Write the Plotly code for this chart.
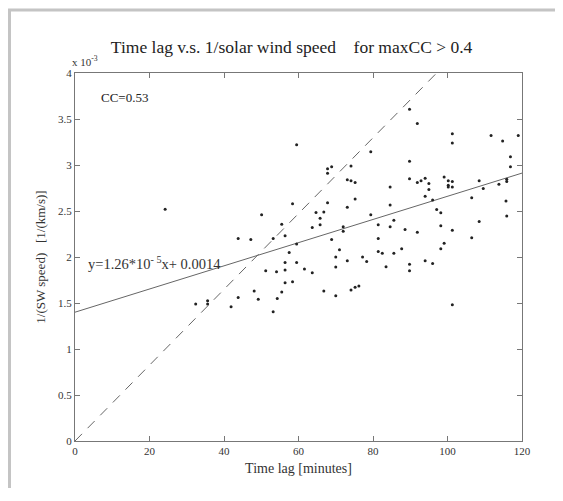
import plotly.graph_objects as go

# Time lag [minutes]
time_lag = [24.2, 32.4, 35.6, 35.6, 41.9, 43.8, 43.8, 47.2, 48.1, 49.2,
            50.1, 51.2, 53.2, 53.2, 54.1, 54.3, 55.5, 55.5, 56.4, 56.4,
            56.4, 56.4, 57.5, 58.4, 58.4, 59.5, 59.5, 59.5, 61.6, 63.7,
            63.7, 64.7, 65.8, 65.8, 66.8, 66.8, 67.8, 67.8, 67.8, 68.9,
            68.9, 70.0, 70.0, 70.0, 71.0, 72.0, 72.0, 73.1, 73.1, 73.1,
            74.1, 74.1, 74.1, 75.2, 75.2, 75.2, 76.2, 77.2, 78.3, 79.4,
            79.4, 81.4, 81.4, 81.4, 82.5, 83.5, 84.6, 84.6, 84.6, 85.6,
            85.6, 87.7, 88.6, 89.8, 89.8, 89.8, 89.8, 89.8, 91.9, 91.9,
            91.9, 92.9, 94.0, 94.0, 94.0, 95.0, 95.0, 96.0, 96.0, 97.1,
            98.2, 98.2, 98.2, 99.1, 99.1, 100.2, 100.2, 100.2, 101.3, 101.3,
            101.3, 101.3, 101.3, 101.3, 106.5, 106.5, 108.5, 108.5, 109.6, 111.7,
            113.8, 114.8, 115.7, 115.9, 115.9, 115.9, 116.9, 116.9, 119.0]
# 1/(SW speed) in units of 1e-3 [1/(km/s)]
inv_speed = [2.52, 1.49, 1.525, 1.49, 1.46, 2.20, 1.56, 2.19, 1.63, 1.54,
             2.46, 1.85, 1.405, 2.20, 1.84, 1.55, 2.355, 1.62, 2.23, 1.94,
             1.86, 1.72, 2.05, 2.58, 1.73, 3.22, 2.14, 1.94, 1.87, 2.32,
             1.83, 2.485, 2.42, 2.35, 2.49, 1.63, 2.96, 2.91, 2.59, 2.98,
             2.19, 2.00, 1.89, 1.58, 2.08, 2.33, 2.28, 2.84, 2.54, 1.96,
             2.99, 2.83, 1.64, 2.81, 2.63, 1.67, 1.685, 2.00, 1.95, 3.145,
             2.46, 2.35, 2.20, 2.06, 2.04, 1.895, 2.76, 2.565, 2.33, 2.40,
             2.04, 2.09, 2.30, 3.605, 3.04, 2.85, 1.92, 1.85, 3.45, 2.81,
             2.27, 2.83, 2.855, 2.66, 1.96, 2.80, 2.735, 2.62, 1.93, 2.515,
             2.48, 2.34, 2.09, 2.87, 2.15, 2.83, 2.78, 2.76, 3.34, 3.24,
             2.82, 2.76, 2.29, 1.48, 2.645, 2.21, 2.83, 2.385, 2.745, 3.32,
             2.79, 3.26, 2.61, 2.845, 2.82, 2.445, 3.09, 2.98, 3.32]

fit_slope = 0.0126      # 1.26e-5 in units of 1e-3
fit_intercept = 1.4     # 0.0014 in units of 1e-3
ref_slope = 0.0412      # dashed reference line
line_x = [0, 120]

x_ticks = [0, 20, 40, 60, 80, 100, 120]
y_ticks = [0, 0.5, 1, 1.5, 2, 2.5, 3, 3.5, 4]
y_ticktext = ["0", "0.5", "1", "1.5", "2", "2.5", "3", "3.5", "4"]

FONT = "Liberation Serif"

fig = go.Figure()
fig.add_trace(go.Scatter(x=line_x, y=[ref_slope * v for v in line_x], mode="lines",
                         line=dict(color="#666", width=1, dash="10px,8px"),
                         hoverinfo="skip"))
fig.add_trace(go.Scatter(x=line_x, y=[fit_slope * v + fit_intercept for v in line_x],
                         mode="lines", line=dict(color="#666", width=1),
                         hoverinfo="skip"))
fig.add_trace(go.Scatter(x=time_lag, y=inv_speed, mode="markers",
                         marker=dict(size=3, color="#222")))

axis_common = dict(showgrid=False, zeroline=False, showline=True, linecolor="#777",
                   linewidth=1, mirror="ticks", ticks="inside", ticklen=5,
                   tickcolor="#777", automargin=False,
                   tickfont=dict(family=FONT, size=11, color="#333"))

fig.update_xaxes(range=[0, 120], tickvals=x_ticks,
                 title=dict(text="Time lag [minutes]", font=dict(family=FONT, size=14, color="#333"),
                            standoff=6),
                 **axis_common)
fig.update_yaxes(range=[0, 4], tickvals=y_ticks, ticktext=y_ticktext,
                 title=dict(text="1/(SW speed)   [1/(km/s)]", font=dict(family=FONT, size=13, color="#333"),
                            standoff=9),
                 **axis_common)

fig.update_layout(
    width=555, height=480,
    margin=dict(l=67, r=41, t=65, b=47, autoexpand=False),
    paper_bgcolor="white", plot_bgcolor="white",
    showlegend=False,
    title=dict(text="Time lag v.s. 1/solar wind speed &nbsp;&nbsp; for maxCC > 0.4",
               x=0.511, xanchor="center", y=1 - 39 / 480, yanchor="middle",
               font=dict(family=FONT, size=17.5, color="#222"), automargin=False),
    annotations=[
        dict(text="x 10<sup>-3</sup>", xref="paper", yref="paper", x=-0.012, y=1.008,
             xanchor="left", yanchor="bottom", showarrow=False,
             font=dict(family=FONT, size=11, color="#333")),
        dict(text="CC=0.53", xref="x", yref="y", x=6.5, y=3.73, xanchor="left",
             yanchor="middle", showarrow=False, font=dict(family=FONT, size=13, color="#222")),
        dict(text="y=1.26*10<sup>- 5</sup>x+ 0.0014", xref="x", yref="y", x=3, y=1.94,
             xanchor="left", yanchor="middle", showarrow=False,
             font=dict(family=FONT, size=14.5, color="#333")),
    ],
    shapes=[dict(type="rect", xref="paper", yref="paper", x0=-0.1465, y0=-0.5, x1=1.6,
                 y1=1.1712, line=dict(color="#c4c4c4", width=3))],
)

fig.write_html("out.html")
